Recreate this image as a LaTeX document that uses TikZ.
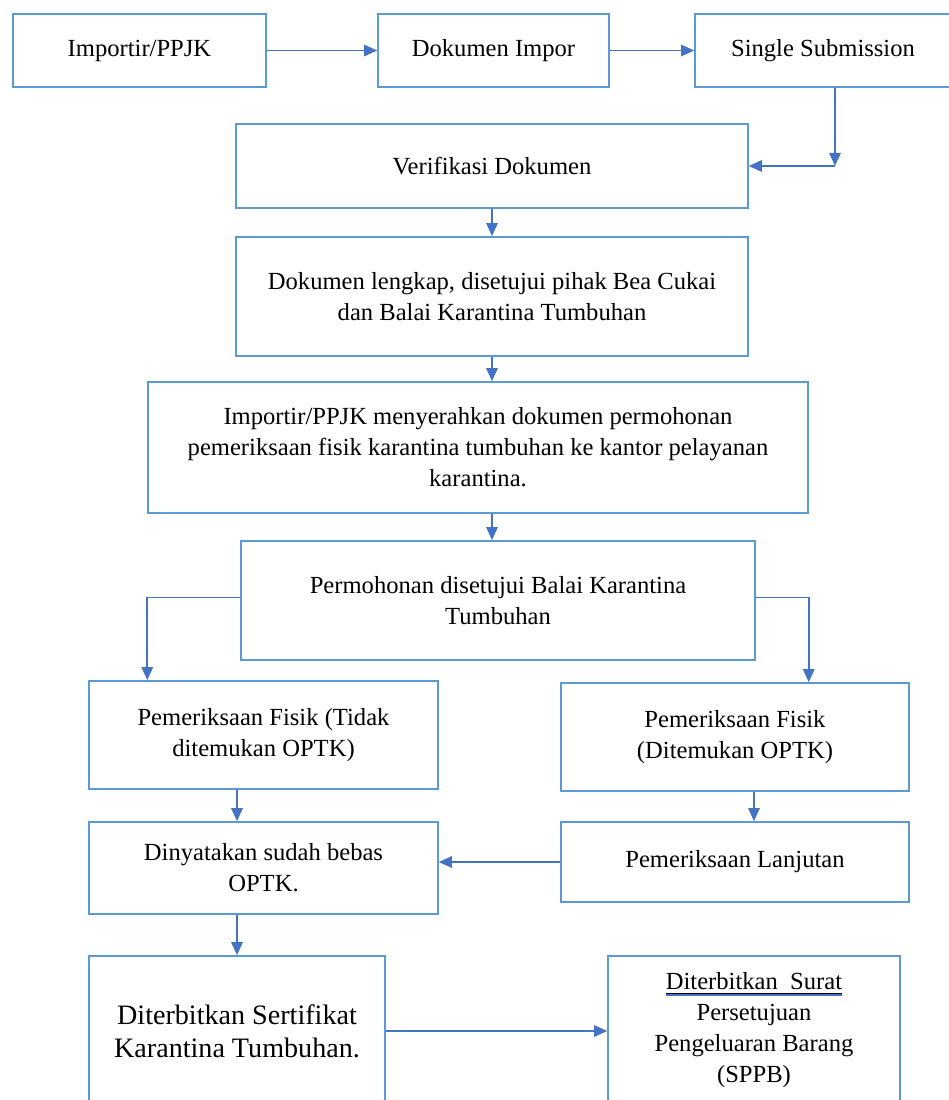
\documentclass[tikz,border=0pt]{standalone}
\usepackage{fontspec}
\setmainfont{Liberation Serif}
\usepackage{tikz}
\usetikzlibrary{positioning,calc,arrows.meta}
\usepackage{xcolor}
\definecolor{boxblue}{RGB}{91,155,213}
\definecolor{arrblue}{RGB}{68,114,196}
\newcommand{\markul}[1]{\setbox0\hbox{#1}%
  \rlap{\color{black}\rule[-2.2pt]{\wd0}{0.5pt}}%
  \rlap{\color{arrblue}\rule[-3.6pt]{\wd0}{0.8pt}}\box0}

\begin{document}
\begin{tikzpicture}[
  x=0.02cm, y=-0.02cm,
  box/.style={draw=boxblue, line width=0.9pt, align=center,
              inner sep=2pt, font=\fontsize{14}{17.6}\selectfont},
  bigbox/.style={box, font=\fontsize{16}{18.8}\selectfont},
  arr/.style={-{Triangle[length=7.5pt,width=6.5pt]}, arrblue, line width=1.1pt},
]
  \useasboundingbox (0,0) rectangle (949,1100);
  \clip (0,0) rectangle (949,1100);
  % top row
  \node[box, minimum width=5.06cm, minimum height=1.46cm] (imp) at (139.5,50.5)
    {Importir/PPJK};
  \node[box, minimum width=4.62cm, minimum height=1.46cm] (dok) at (493.5,50.5)
    {Dokumen Impor};
  \node[box, minimum width=5.12cm, minimum height=1.46cm] (ss) at (823,50.5)
    {Single Submission};
  \draw[arr] (imp)--(dok);
  \draw[arr] (dok)--(ss);
  % document checks
  \node[box, minimum width=10.24cm, minimum height=1.68cm] (ver) at (492,166)
    {Verifikasi Dokumen};
  \node[box, minimum width=10.24cm, minimum height=2.38cm] (lkp) at (492,296.5)
    {Dokumen lengkap, disetujui pihak Bea Cukai\\dan Balai Karantina Tumbuhan};
  \node[box, minimum width=13.2cm, minimum height=2.62cm] (srh) at (478,447.5)
    {Importir/PPJK menyerahkan dokumen permohonan\\
     pemeriksaan fisik karantina tumbuhan ke kantor pelayanan\\karantina.};
  \node[box, minimum width=10.28cm, minimum height=2.38cm] (prm) at (498,600.5)
    {Permohonan disetujui Balai Karantina\\Tumbuhan};
  \coordinate (bend) at (835,166);
  \draw[arr] (ss.south -| bend)--(bend);
  \draw[arr] (bend)--(ver.east);
  \draw[arr] (ver)--(lkp);
  \draw[arr] (lkp.south)--(lkp.south |- srh.north);
  \draw[arr] (lkp.south |- srh.south)--(lkp.south |- prm.north);
  % inspection
  \node[box, minimum width=6.98cm, minimum height=2.16cm] (fsa) at (263.5,735)
    {Pemeriksaan Fisik (Tidak\\ditemukan OPTK)};
  \node[box, minimum width=6.96cm, minimum height=2.16cm] (fsb) at (735,737)
    {Pemeriksaan Fisik\\(Ditemukan OPTK)};
  \node[box, minimum width=6.98cm, minimum height=1.84cm] (byn) at (263.5,868)
    {Dinyatakan sudah bebas\\OPTK.};
  \node[box, minimum width=6.96cm, minimum height=1.6cm] (lnj) at (735,862)
    {Pemeriksaan Lanjutan};
  % documents issued
  \node[bigbox, minimum width=5.92cm, minimum height=3.0cm] (srt) at (237,1031)
    {Diterbitkan Sertifikat\\Karantina Tumbuhan.};
  \node[box, minimum width=5.84cm, minimum height=2.96cm] (sppb) at (754,1030)
    {\markul{Diterbitkan\ \ Surat}\\Persetujuan\\Pengeluaran Barang\\(SPPB)};
  \draw[arr] ([yshift=0.06cm]prm.west) -| (srh.west |- fsa.north);
  \draw[arr] ([yshift=0.06cm]prm.east) -| (srh.east |- fsb.north);
  \draw[arr] (srt.north |- fsa.south)--(srt.north |- byn.north);
  \draw[arr] (sppb.north |- fsb.south)--(sppb.north |- lnj.north);
  \draw[arr] (lnj.west)--(lnj.west -| byn.east);
  \draw[arr] (srt.north |- byn.south)--(srt.north);
  \draw[arr] (srt.east)--(srt.east -| sppb.west);
\end{tikzpicture}
\end{document}
